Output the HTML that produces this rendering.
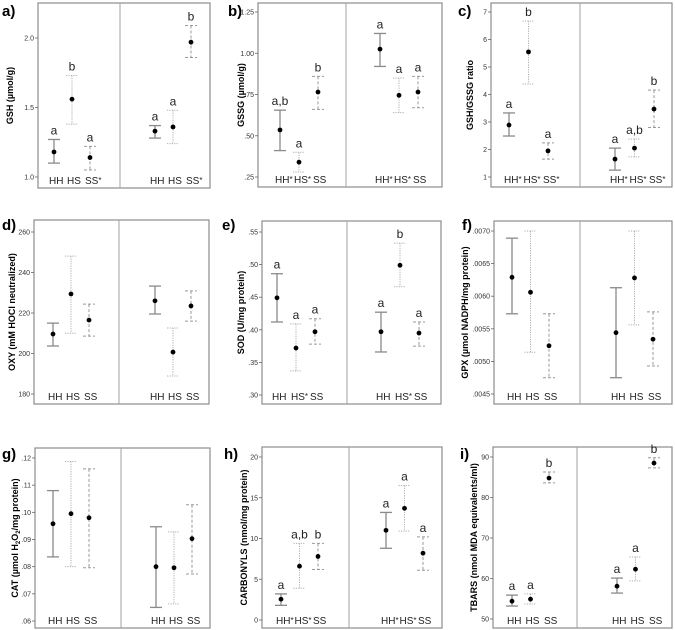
<!DOCTYPE html>
<html><head><meta charset="utf-8"><style>
html,body{margin:0;padding:0;background:#fff;}
svg{display:block;font-family:"Liberation Sans",sans-serif;}
</style></head><body>
<svg id="fig" width="675" height="630" viewBox="0 0 675 630" xmlns="http://www.w3.org/2000/svg"></svg>
<script>
// ---- data: [HH, HS, SS] for left group then right group ----
const gshMean=[1.18,1.56,1.14,1.33,1.36,1.97];
const gshHi=[1.27,1.73,1.22,1.37,1.48,2.09];
const gshLo=[1.10,1.38,1.05,1.28,1.24,1.86];
const gshLetters=["a","b","a","a","a","b"];
const gshCats=["HH","HS","SS*","HH","HS","SS*"];
const gshTicks=[1.0,1.5,2.0];
const gshTickLabels=["1.0","1.5","2.0"];

const gssgMean=[0.535,0.34,0.765,1.025,0.745,0.765];
const gssgHi=[0.655,0.40,0.86,1.12,0.85,0.86];
const gssgLo=[0.41,0.28,0.66,0.92,0.64,0.67];
const gssgLetters=["a,b","a","b","a","a","a"];
const gssgCats=["HH*","HS*","SS","HH*","HS*","SS"];
const gssgTicks=[0.25,0.5,0.75,1.0,1.25];
const gssgTickLabels=[".25",".50",".75","1.00","1.25"];

const ratioMean=[2.89,5.55,1.95,1.65,2.05,3.47];
const ratioHi=[3.33,6.67,2.24,2.05,2.38,4.16];
const ratioLo=[2.49,4.38,1.65,1.25,1.73,2.80];
const ratioLetters=["a","b","a","a","a,b","b"];
const ratioCats=["HH*","HS*","SS*","HH*","HS*","SS*"];
const ratioTicks=[1,2,3,4,5,6,7];
const ratioTickLabels=["1","2","3","4","5","6","7"];

const oxyMean=[209.6,229.4,216.5,226,200.7,223.5];
const oxyHi=[215,248.1,224.4,233.3,212.6,230.9];
const oxyLo=[203.7,210,208.6,219.5,188.9,216];
const oxyLetters=["","","","","",""];
const oxyCats=["HH","HS","SS","HH","HS","SS"];
const oxyTicks=[180,200,220,240,260];
const oxyTickLabels=["180","200","220","240","260"];

const sodMean=[0.449,0.372,0.397,0.397,0.499,0.395];
const sodHi=[0.486,0.409,0.417,0.427,0.533,0.412];
const sodLo=[0.412,0.337,0.378,0.366,0.466,0.375];
const sodLetters=["a","a","a","a","b","a"];
const sodCats=["HH","HS*","SS","HH","HS*","SS"];
const sodTicks=[0.30,0.35,0.40,0.45,0.50,0.55];
const sodTickLabels=[".30",".35",".40",".45",".50",".55"];

const gpxMean=[0.00629,0.00606,0.00524,0.00544,0.00628,0.00534];
const gpxHi=[0.00689,0.00700,0.00573,0.00613,0.00700,0.00576];
const gpxLo=[0.00573,0.00514,0.00475,0.00475,0.00556,0.00493];
const gpxLetters=["","","","","",""];
const gpxCats=["HH","HS","SS","HH","HS","SS"];
const gpxTicks=[0.0045,0.0050,0.0055,0.0060,0.0065,0.0070];
const gpxTickLabels=[".0045",".0050",".0055",".0060",".0065",".0070"];

const catMean=[0.0958,0.0995,0.098,0.080,0.0796,0.0903];
const catHi=[0.108,0.1187,0.116,0.0947,0.0928,0.1028];
const catLo=[0.0836,0.080,0.0796,0.065,0.0663,0.0773];
const catLetters=["","","","","",""];
const catCats=["HH","HS","SS","HH","HS","SS"];
const catTicks=[0.06,0.07,0.08,0.09,0.10,0.11,0.12];
const catTickLabels=[".06",".07",".08",".09",".10",".11",".12"];

const carbMean=[2.55,6.6,7.8,11.0,13.7,8.2];
const carbHi=[3.2,9.4,9.4,13.2,16.5,10.2];
const carbLo=[1.8,3.9,6.2,8.8,10.9,6.1];
const carbLetters=["a","a,b","b","a","a","a"];
const carbCats=["HH*","HS*","SS","HH*","HS*","SS"];
const carbTicks=[0,5,10,15,20];
const carbTickLabels=["0","5","10","15","20"];

const tbarsMean=[54.4,54.9,84.8,58.1,62.3,88.5];
const tbarsHi=[55.9,56.2,86.3,60.1,65.3,89.8];
const tbarsLo=[53.2,53.7,83.6,56.4,59.4,87.3];
const tbarsLetters=["a","a","b","a","a","b"];
const tbarsCats=["HH","HS","SS","HH","HS","SS"];
const tbarsTicks=[50,60,70,80,90];
const tbarsTickLabels=["50","60","70","80","90"];

// ---- layout (pixel geometry, not data) ----
const panels=[
 {id:"a",name:"gsh",L:38,R:210,T:3,B:188,D:120,v0:1,y0:177,v1:2,y1:38,ls:16,re:19,sp:18,tx:-28,title:"GSH (µmol/g)",lx:2,ly:16,mean:gshMean,hi:gshHi,lo:gshLo,let:gshLetters,cats:gshCats,ticks:gshTicks,tl:gshTickLabels},
 {id:"b",name:"gssg",L:258,R:442,T:3,B:187,D:346,v0:0.25,y0:177,v1:1.25,y1:12,ls:22,re:24,sp:19,tx:-17,title:"GSSG (µmol/g)",lx:228,ly:16,mean:gssgMean,hi:gssgHi,lo:gssgLo,let:gssgLetters,cats:gssgCats,ticks:gssgTicks,tl:gssgTickLabels},
 {id:"c",name:"ratio",L:491,R:672,T:3,B:187,D:580,v0:1,y0:177,v1:7,y1:12,ls:18,re:18,sp:19.5,tx:-21,title:"GSH/GSSG ratio",lx:458,ly:16,mean:ratioMean,hi:ratioHi,lo:ratioLo,let:ratioLetters,cats:ratioCats,ticks:ratioTicks,tl:ratioTickLabels},
 {id:"d",name:"oxy",L:34,R:209,T:220,B:404,D:119,v0:180,y0:394,v1:260,y1:232,ls:19,re:18,sp:18,tx:-22,title:"OXY (mM HOCl neutralized)",lx:2,ly:230,mean:oxyMean,hi:oxyHi,lo:oxyLo,let:oxyLetters,cats:oxyCats,ticks:oxyTicks,tl:oxyTickLabels},
 {id:"e",name:"sod",L:262,R:441,T:221,B:404,D:347,v0:0.30,y0:395,v1:0.55,y1:232,ls:15,re:22,sp:19,tx:-21,title:"SOD (U/mg protein)",lx:222,ly:230,mean:sodMean,hi:sodHi,lo:sodLo,let:sodLetters,cats:sodCats,ticks:sodTicks,tl:sodTickLabels},
 {id:"f",name:"gpx",L:494,R:672,T:221,B:404,D:580,v0:0.0045,y0:394,v1:0.0070,y1:231,ls:18,re:19,sp:18.5,tx:-29,title:"GPX (µmol NADPH/mg protein)",lx:462,ly:230,mean:gpxMean,hi:gpxHi,lo:gpxLo,let:gpxLetters,cats:gpxCats,ticks:gpxTicks,tl:gpxTickLabels},
 {id:"g",name:"cat",L:35,R:210,T:448,B:628,D:121,v0:0.06,y0:621,v1:0.12,y1:458,ls:18,re:18,sp:18,tx:-20,title:"CAT",lx:2,ly:459,mean:catMean,hi:catHi,lo:catLo,let:catLetters,cats:catCats,ticks:catTicks,tl:catTickLabels},
 {id:"h",name:"carbonyls",L:262,R:442,T:447,B:628,D:349,v0:0,y0:620,v1:20,y1:457,ls:19,re:19,sp:18.5,tx:-18,title:"CARBONYLS (nmol/mg protein)",lx:224,ly:459,mean:carbMean,hi:carbHi,lo:carbLo,let:carbLetters,cats:carbCats,ticks:carbTicks,tl:carbTickLabels},
 {id:"i",name:"tbars",L:493,R:672,T:447,B:628,D:577,v0:50,y0:619,v1:90,y1:457,ls:19,re:18,sp:18.5,tx:-19,title:"TBARS (nmol MDA equivalents/ml)",lx:460,ly:459,mean:tbarsMean,hi:tbarsHi,lo:tbarsLo,let:tbarsLetters,cats:tbarsCats,ticks:tbarsTicks,tl:tbarsTickLabels}
];
const NS="http://www.w3.org/2000/svg";
const svg=document.getElementById("fig");
function mk(tag,attrs,parent){const e=document.createElementNS(NS,tag);for(const k in attrs)e.setAttribute(k,attrs[k]);(parent||svg).appendChild(e);return e;}
const styles=[{c:"#8a8a8a",d:"none",w:1.3},{c:"#b0b0b0",d:"1.2 1.2",w:1},{c:"#999",d:"3 2",w:1}];
panels.forEach(p=>{
 const g=mk("g",{});
 
 
 const y=v=>p.y0+(v-p.v0)*(p.y1-p.y0)/(p.v1-p.v0);
 const frame=mk("rect",{x:p.L,y:p.T,width:p.R-p.L,height:p.B-p.T,fill:"none",stroke:"#8c8c8c","stroke-width":1.2},g);
 
 
 const div=mk("line",{x1:p.D,x2:p.D,y1:p.T,y2:p.B,stroke:"#a0a0a0","stroke-width":1},g);
 
 
 const lt=mk("text",{x:p.lx,y:p.ly,"font-size":15,"font-weight":"bold"},g);lt.textContent=p.id+")";
 
 
 p.ticks.forEach((t,k)=>{
  const ty=y(t);
  mk("line",{x1:p.L-3,x2:p.L,y1:ty,y2:ty,stroke:"#666","stroke-width":0.8},g);
  const tt=mk("text",{x:p.L-4,y:ty+2.5,"font-size":7,"text-anchor":"end",fill:"#333"},g);
  tt.textContent=p.tl[k];
  
  
 });
 const cy=(p.T+p.B)/2, cx=p.L+p.tx;
 const at=mk("text",{x:cx,y:cy,"font-size":9,"font-weight":"bold","text-anchor":"middle",transform:`rotate(-90 ${cx} ${cy})`,dy:3},g);
 if(p.name==="cat"){at.innerHTML='CAT (µmol H<tspan font-size="6" dy="2">2</tspan><tspan dy="-2">O</tspan><tspan font-size="6" dy="2">2</tspan><tspan dy="-2">/mg protein)</tspan>';}
 else at.textContent=p.title;
 
 
 for(let i=0;i<6;i++){
  const x=i<3?p.L+p.ls+i*p.sp:p.R-p.re-(5-i)*p.sp;
  const s=styles[i%3];
  const eg=mk("g",{},g);
  
  
  const yh=y(p.hi[i]), yl=y(p.lo[i]), ym=y(p.mean[i]);
  const la={stroke:s.c,"stroke-width":s.w}; if(s.d!=="none")la["stroke-dasharray"]=s.d;
  mk("line",Object.assign({x1:x,x2:x,y1:yh,y2:yl},la),eg);
  mk("line",Object.assign({x1:x-6,x2:x+6,y1:yh,y2:yh},la),eg);
  mk("line",Object.assign({x1:x-6,x2:x+6,y1:yl,y2:yl},la),eg);
  mk("circle",{cx:x,cy:ym,r:2.4,fill:"#000"},eg);
  if(p.let[i]){const l=mk("text",{x:x,y:yh-5,"font-size":12,"text-anchor":"middle",fill:"#222"},g);l.textContent=p.let[i];
   
   }
  const star=p.cats[i].endsWith('*');
  const c=mk("text",{x:x-5,y:p.B-4,"font-size":10,fill:"#222"},g);
  if(star){c.innerHTML=p.cats[i].slice(0,-1)+'<tspan font-size="8" dy="-1">*</tspan>';}
  else c.textContent=p.cats[i];
  
  
 }
});
</script>
</body></html>
